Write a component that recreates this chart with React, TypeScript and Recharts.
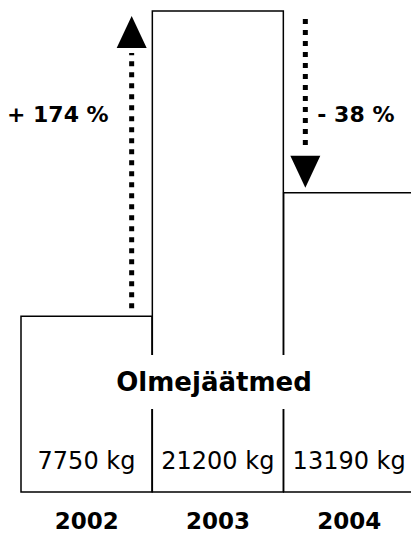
import { BarChart, Bar, XAxis, YAxis, LabelList, ReferenceLine } from 'recharts'

const years = ['2002', '2003', '2004']
const amounts = [7750, 21200, 13190]
const changes = ['+ 174 %', '- 38 %']
const title = 'Olmejäätmed'

const font = '"DejaVu Sans", Verdana, sans-serif'

const data = years.map((year, i) => ({ year, amount: amounts[i] }))

// each arrow stands over the lower of the two bars, near their shared border
const arrows = changes.map((text, i) => {
  const from = amounts[i]
  const to = amounts[i + 1]
  const up = to > from
  return { text, from, to, year: up ? years[i] : years[i + 1], dx: up ? 45 : -44 }
})

function Arrow(props: any) {
  const { x1, y1, y2, text, dx } = props
  const x = x1 + dx
  const dir = y2 < y1 ? -1 : 1
  const startY = y1 + dir * 8
  const apexY = y2 - dir * 5
  const baseY = apexY - dir * 32
  const lineEnd = baseY - dir * 5
  const labelY = Math.min(y1, y2) + 103
  return (
    <g>
      <line
        x1={x}
        y1={startY}
        x2={x}
        y2={lineEnd}
        stroke="#000"
        strokeWidth={5}
        strokeDasharray="5 6"
      />
      <polygon points={`${x - 15},${baseY} ${x + 15},${baseY} ${x},${apexY}`} fill="#000" />
      <text
        x={dir < 0 ? x - 23 : x + 12}
        y={labelY}
        textAnchor={dir < 0 ? 'end' : 'start'}
        dy="0.36em"
        fontFamily={font}
        fontWeight="bold"
        fontSize={22}
        fill="#000"
      >
        {text}
      </text>
    </g>
  )
}

function AmountLabel(props: any) {
  const { x, y, width, height, value } = props
  return (
    <text
      x={x + width / 2}
      y={y + height - 23}
      textAnchor="middle"
      fontFamily={font}
      fontSize={24}
      fill="#000"
    >
      {`${value} kg`}
    </text>
  )
}

function YearTick(props: any) {
  const { x, y, payload } = props
  return (
    <text
      x={x}
      y={y + 37}
      textAnchor="middle"
      fontFamily={font}
      fontWeight="bold"
      fontSize={23}
      fill="#000"
    >
      {payload.value}
    </text>
  )
}

export default function App() {
  return (
    <div style={{ position: 'absolute', left: 0, top: 0, width: 411, height: 533, background: '#fff' }}>
      <BarChart
        width={411}
        height={533}
        data={data}
        margin={{ top: 11, right: -4, left: 21, bottom: 0 }}
        barCategoryGap={0}
        barGap={0}
      >
        <XAxis
          dataKey="year"
          height={41}
          axisLine={false}
          tickLine={false}
          tickSize={0}
          tickMargin={0}
          tick={<YearTick />}
          interval={0}
        />
        <YAxis hide domain={[0, 21200]} />
        <Bar dataKey="amount" fill="#fff" stroke="#000" strokeWidth={1.5} isAnimationActive={false}>
          <LabelList dataKey="amount" content={<AmountLabel />} />
        </Bar>
        {arrows.map((a) => (
          <ReferenceLine
            key={a.text}
            ifOverflow="visible"
            segment={[
              { x: a.year, y: a.from },
              { x: a.year, y: a.to },
            ]}
            shape={(p: any) => <Arrow {...p} text={a.text} dx={a.dx} />}
          />
        ))}
      </BarChart>
      <div
        style={{
          position: 'absolute',
          left: 115,
          top: 355,
          width: 198,
          height: 54,
          background: '#fff',
          display: 'flex',
          alignItems: 'center',
          justifyContent: 'center',
          fontFamily: font,
          fontWeight: 'bold',
          fontSize: 26,
          color: '#000',
          whiteSpace: 'nowrap',
        }}
      >
        {title}
      </div>
    </div>
  )
}
